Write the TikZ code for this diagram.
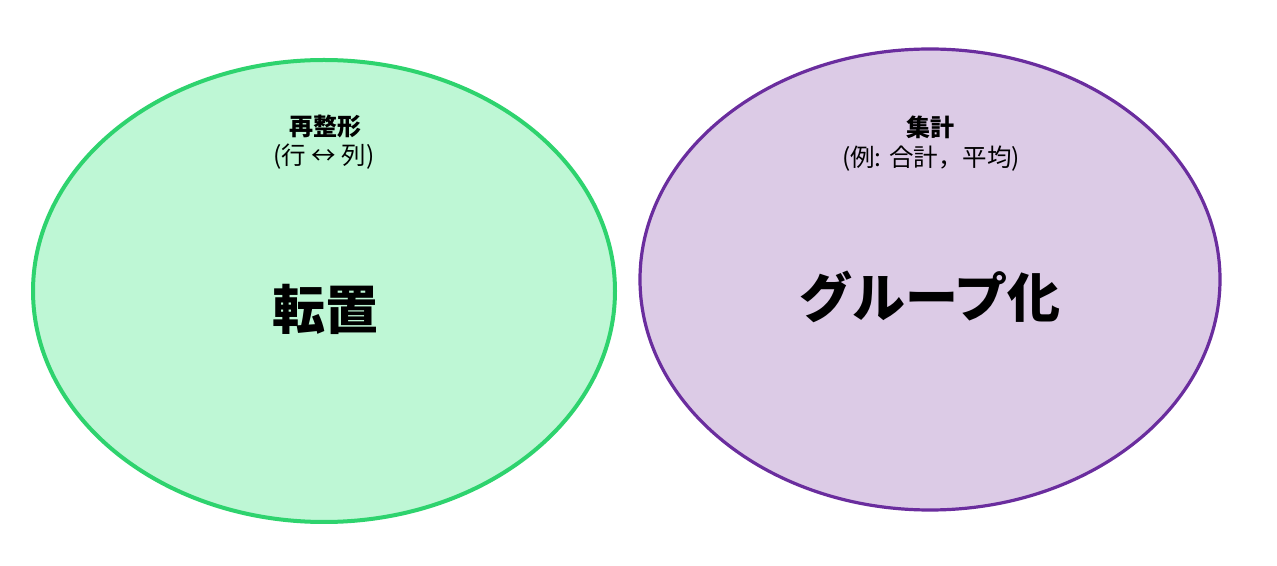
\documentclass[tikz,border=0pt]{standalone}
\usepackage{fontspec}
\setmainfont{Noto Sans CJK JP}
\usetikzlibrary{shapes.geometric}
\definecolor{greenfill}{HTML}{BEF7D5}
\definecolor{greenline}{HTML}{2ED36E}
\definecolor{purplefill}{HTML}{DCCBE6}
\definecolor{purpleline}{HTML}{6A2D9E}
\tikzset{
  blob/.style={ellipse, inner sep=0pt, outer sep=0pt},
  subtitle/.style={anchor=base, inner sep=0pt, font=\fontsize{24}{28}\selectfont\bfseries},
  detail/.style={anchor=base, inner sep=0pt, font=\fontsize{24.5}{28}\selectfont},
  bigtitle/.style={anchor=base, inner sep=0pt, font=\fontsize{53}{60}\selectfont\bfseries},
}
\begin{document}
\begin{tikzpicture}[x=1pt,y=1pt]
\useasboundingbox[fill=white] (0,0) rectangle (1277,565);
\node[blob, draw=greenline, fill=greenfill, line width=4pt,
      minimum width=582pt, minimum height=462pt] (left) at (324,274) {};
\node[blob, draw=purpleline, fill=purplefill, line width=3.2pt,
      minimum width=580pt, minimum height=461pt] (right) at (930,285.5) {};
\node[subtitle] (reshape) at (325,429.5) {再整形};
\node[detail] (rowcol) at (324,400) {(行 ↔ 列)};
\node[bigtitle] (transpose) at (325,235.5) {転置};
\node[subtitle] (agg) at (930,428.5) {集計};
\node[detail] (example) at (931,398.5) {(例: 合計，平均)};
\node[bigtitle] (group) at (930,247) {グループ化};
\end{tikzpicture}
\end{document}
